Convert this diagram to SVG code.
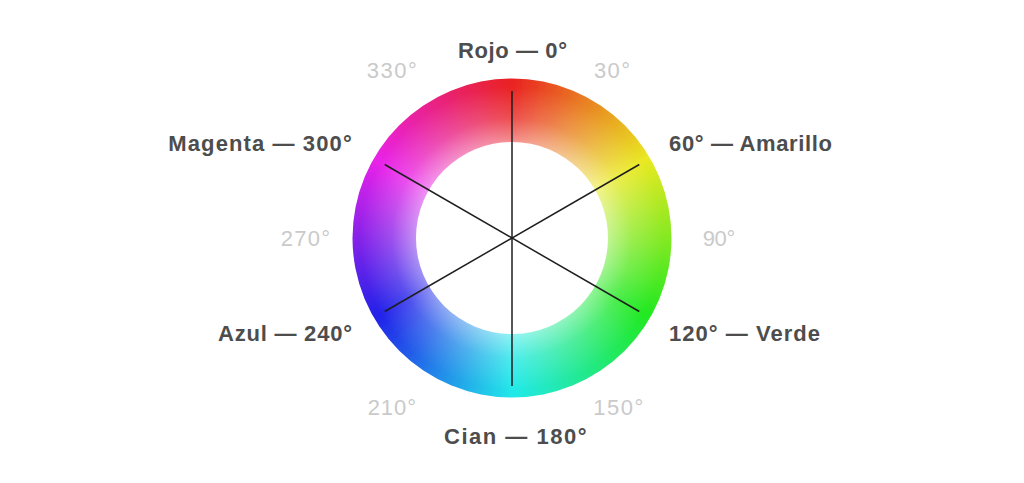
<svg xmlns="http://www.w3.org/2000/svg" xmlns:xlink="http://www.w3.org/1999/xlink" width="1024" height="483" viewBox="0 0 1024 483">
<style>
.lbl{font-family:"Liberation Sans",Arial,sans-serif;font-weight:700;font-size:22px;fill:#4d4d4d}
.deg{font-family:"Liberation Sans",Arial,sans-serif;font-weight:400;font-size:22px;fill:#cacaca}
.spoke{stroke:#1e1e1e;stroke-width:1.5;fill:none}
</style>
<defs>
<path id="w" d="M512,238 L506.6,68 L517.4,68 Z"/>
<clipPath id="disc"><circle cx="512" cy="238" r="159.5"/></clipPath>
<filter id="soft" x="-10%" y="-10%" width="120%" height="120%"><feGaussianBlur stdDeviation="2"/></filter>
<radialGradient id="fade" gradientUnits="userSpaceOnUse" cx="512" cy="238" r="160">
<stop offset="0.6" stop-color="#fff" stop-opacity="0.5"/>
<stop offset="0.75" stop-color="#fff" stop-opacity="0.2"/>
<stop offset="0.95" stop-color="#fff" stop-opacity="0"/>
</radialGradient>
</defs>
<rect width="1024" height="483" fill="#fff"/>
<g id="wheel">
<g clip-path="url(#disc)">
<g filter="url(#soft)">
<use xlink:href="#w" fill="hsl(0,82%,52%)" transform="rotate(0,512,238)"/>
<use xlink:href="#w" fill="hsl(3,82%,52%)" transform="rotate(3,512,238)"/>
<use xlink:href="#w" fill="hsl(6,82%,52%)" transform="rotate(6,512,238)"/>
<use xlink:href="#w" fill="hsl(9,82%,52%)" transform="rotate(9,512,238)"/>
<use xlink:href="#w" fill="hsl(12,82%,52%)" transform="rotate(12,512,238)"/>
<use xlink:href="#w" fill="hsl(15,82%,52%)" transform="rotate(15,512,238)"/>
<use xlink:href="#w" fill="hsl(18,82%,52%)" transform="rotate(18,512,238)"/>
<use xlink:href="#w" fill="hsl(21,82%,52%)" transform="rotate(21,512,238)"/>
<use xlink:href="#w" fill="hsl(24,82%,52%)" transform="rotate(24,512,238)"/>
<use xlink:href="#w" fill="hsl(27,82%,52%)" transform="rotate(27,512,238)"/>
<use xlink:href="#w" fill="hsl(30,82%,52%)" transform="rotate(30,512,238)"/>
<use xlink:href="#w" fill="hsl(33,82%,52%)" transform="rotate(33,512,238)"/>
<use xlink:href="#w" fill="hsl(36,82%,52%)" transform="rotate(36,512,238)"/>
<use xlink:href="#w" fill="hsl(39,82%,52%)" transform="rotate(39,512,238)"/>
<use xlink:href="#w" fill="hsl(42,82%,52%)" transform="rotate(42,512,238)"/>
<use xlink:href="#w" fill="hsl(45,82%,52%)" transform="rotate(45,512,238)"/>
<use xlink:href="#w" fill="hsl(48,82%,52%)" transform="rotate(48,512,238)"/>
<use xlink:href="#w" fill="hsl(51,82%,52%)" transform="rotate(51,512,238)"/>
<use xlink:href="#w" fill="hsl(54,82%,52%)" transform="rotate(54,512,238)"/>
<use xlink:href="#w" fill="hsl(57,82%,52%)" transform="rotate(57,512,238)"/>
<use xlink:href="#w" fill="hsl(60,82%,52%)" transform="rotate(60,512,238)"/>
<use xlink:href="#w" fill="hsl(63,82%,52%)" transform="rotate(63,512,238)"/>
<use xlink:href="#w" fill="hsl(66,82%,52%)" transform="rotate(66,512,238)"/>
<use xlink:href="#w" fill="hsl(69,82%,52%)" transform="rotate(69,512,238)"/>
<use xlink:href="#w" fill="hsl(72,82%,52%)" transform="rotate(72,512,238)"/>
<use xlink:href="#w" fill="hsl(75,82%,52%)" transform="rotate(75,512,238)"/>
<use xlink:href="#w" fill="hsl(78,82%,52%)" transform="rotate(78,512,238)"/>
<use xlink:href="#w" fill="hsl(81,82%,52%)" transform="rotate(81,512,238)"/>
<use xlink:href="#w" fill="hsl(84,82%,52%)" transform="rotate(84,512,238)"/>
<use xlink:href="#w" fill="hsl(87,82%,52%)" transform="rotate(87,512,238)"/>
<use xlink:href="#w" fill="hsl(90,82%,52%)" transform="rotate(90,512,238)"/>
<use xlink:href="#w" fill="hsl(93,82%,52%)" transform="rotate(93,512,238)"/>
<use xlink:href="#w" fill="hsl(96,82%,52%)" transform="rotate(96,512,238)"/>
<use xlink:href="#w" fill="hsl(99,82%,52%)" transform="rotate(99,512,238)"/>
<use xlink:href="#w" fill="hsl(102,82%,52%)" transform="rotate(102,512,238)"/>
<use xlink:href="#w" fill="hsl(105,82%,52%)" transform="rotate(105,512,238)"/>
<use xlink:href="#w" fill="hsl(108,82%,52%)" transform="rotate(108,512,238)"/>
<use xlink:href="#w" fill="hsl(111,82%,52%)" transform="rotate(111,512,238)"/>
<use xlink:href="#w" fill="hsl(114,82%,52%)" transform="rotate(114,512,238)"/>
<use xlink:href="#w" fill="hsl(117,82%,52%)" transform="rotate(117,512,238)"/>
<use xlink:href="#w" fill="hsl(120,82%,52%)" transform="rotate(120,512,238)"/>
<use xlink:href="#w" fill="hsl(123,82%,52%)" transform="rotate(123,512,238)"/>
<use xlink:href="#w" fill="hsl(126,82%,52%)" transform="rotate(126,512,238)"/>
<use xlink:href="#w" fill="hsl(129,82%,52%)" transform="rotate(129,512,238)"/>
<use xlink:href="#w" fill="hsl(132,82%,52%)" transform="rotate(132,512,238)"/>
<use xlink:href="#w" fill="hsl(135,82%,52%)" transform="rotate(135,512,238)"/>
<use xlink:href="#w" fill="hsl(138,82%,52%)" transform="rotate(138,512,238)"/>
<use xlink:href="#w" fill="hsl(141,82%,52%)" transform="rotate(141,512,238)"/>
<use xlink:href="#w" fill="hsl(144,82%,52%)" transform="rotate(144,512,238)"/>
<use xlink:href="#w" fill="hsl(147,82%,52%)" transform="rotate(147,512,238)"/>
<use xlink:href="#w" fill="hsl(150,82%,52%)" transform="rotate(150,512,238)"/>
<use xlink:href="#w" fill="hsl(153,82%,52%)" transform="rotate(153,512,238)"/>
<use xlink:href="#w" fill="hsl(156,82%,52%)" transform="rotate(156,512,238)"/>
<use xlink:href="#w" fill="hsl(159,82%,52%)" transform="rotate(159,512,238)"/>
<use xlink:href="#w" fill="hsl(162,82%,52%)" transform="rotate(162,512,238)"/>
<use xlink:href="#w" fill="hsl(165,82%,52%)" transform="rotate(165,512,238)"/>
<use xlink:href="#w" fill="hsl(168,82%,52%)" transform="rotate(168,512,238)"/>
<use xlink:href="#w" fill="hsl(171,82%,52%)" transform="rotate(171,512,238)"/>
<use xlink:href="#w" fill="hsl(174,82%,52%)" transform="rotate(174,512,238)"/>
<use xlink:href="#w" fill="hsl(177,82%,52%)" transform="rotate(177,512,238)"/>
<use xlink:href="#w" fill="hsl(180,82%,52%)" transform="rotate(180,512,238)"/>
<use xlink:href="#w" fill="hsl(183,82%,52%)" transform="rotate(183,512,238)"/>
<use xlink:href="#w" fill="hsl(186,82%,52%)" transform="rotate(186,512,238)"/>
<use xlink:href="#w" fill="hsl(189,82%,52%)" transform="rotate(189,512,238)"/>
<use xlink:href="#w" fill="hsl(192,82%,52%)" transform="rotate(192,512,238)"/>
<use xlink:href="#w" fill="hsl(195,82%,52%)" transform="rotate(195,512,238)"/>
<use xlink:href="#w" fill="hsl(198,82%,52%)" transform="rotate(198,512,238)"/>
<use xlink:href="#w" fill="hsl(201,82%,52%)" transform="rotate(201,512,238)"/>
<use xlink:href="#w" fill="hsl(204,82%,52%)" transform="rotate(204,512,238)"/>
<use xlink:href="#w" fill="hsl(207,82%,52%)" transform="rotate(207,512,238)"/>
<use xlink:href="#w" fill="hsl(210,82%,52%)" transform="rotate(210,512,238)"/>
<use xlink:href="#w" fill="hsl(213,82%,52%)" transform="rotate(213,512,238)"/>
<use xlink:href="#w" fill="hsl(216,82%,52%)" transform="rotate(216,512,238)"/>
<use xlink:href="#w" fill="hsl(219,82%,52%)" transform="rotate(219,512,238)"/>
<use xlink:href="#w" fill="hsl(222,82%,52%)" transform="rotate(222,512,238)"/>
<use xlink:href="#w" fill="hsl(225,82%,52%)" transform="rotate(225,512,238)"/>
<use xlink:href="#w" fill="hsl(228,82%,52%)" transform="rotate(228,512,238)"/>
<use xlink:href="#w" fill="hsl(231,82%,52%)" transform="rotate(231,512,238)"/>
<use xlink:href="#w" fill="hsl(234,82%,52%)" transform="rotate(234,512,238)"/>
<use xlink:href="#w" fill="hsl(237,82%,52%)" transform="rotate(237,512,238)"/>
<use xlink:href="#w" fill="hsl(240,82%,52%)" transform="rotate(240,512,238)"/>
<use xlink:href="#w" fill="hsl(243,82%,52%)" transform="rotate(243,512,238)"/>
<use xlink:href="#w" fill="hsl(246,82%,52%)" transform="rotate(246,512,238)"/>
<use xlink:href="#w" fill="hsl(249,82%,52%)" transform="rotate(249,512,238)"/>
<use xlink:href="#w" fill="hsl(252,82%,52%)" transform="rotate(252,512,238)"/>
<use xlink:href="#w" fill="hsl(255,82%,52%)" transform="rotate(255,512,238)"/>
<use xlink:href="#w" fill="hsl(258,82%,52%)" transform="rotate(258,512,238)"/>
<use xlink:href="#w" fill="hsl(261,82%,52%)" transform="rotate(261,512,238)"/>
<use xlink:href="#w" fill="hsl(264,82%,52%)" transform="rotate(264,512,238)"/>
<use xlink:href="#w" fill="hsl(267,82%,52%)" transform="rotate(267,512,238)"/>
<use xlink:href="#w" fill="hsl(270,82%,52%)" transform="rotate(270,512,238)"/>
<use xlink:href="#w" fill="hsl(273,82%,52%)" transform="rotate(273,512,238)"/>
<use xlink:href="#w" fill="hsl(276,82%,52%)" transform="rotate(276,512,238)"/>
<use xlink:href="#w" fill="hsl(279,82%,52%)" transform="rotate(279,512,238)"/>
<use xlink:href="#w" fill="hsl(282,82%,52%)" transform="rotate(282,512,238)"/>
<use xlink:href="#w" fill="hsl(285,82%,52%)" transform="rotate(285,512,238)"/>
<use xlink:href="#w" fill="hsl(288,82%,52%)" transform="rotate(288,512,238)"/>
<use xlink:href="#w" fill="hsl(291,82%,52%)" transform="rotate(291,512,238)"/>
<use xlink:href="#w" fill="hsl(294,82%,52%)" transform="rotate(294,512,238)"/>
<use xlink:href="#w" fill="hsl(297,82%,52%)" transform="rotate(297,512,238)"/>
<use xlink:href="#w" fill="hsl(300,82%,52%)" transform="rotate(300,512,238)"/>
<use xlink:href="#w" fill="hsl(303,82%,52%)" transform="rotate(303,512,238)"/>
<use xlink:href="#w" fill="hsl(306,82%,52%)" transform="rotate(306,512,238)"/>
<use xlink:href="#w" fill="hsl(309,82%,52%)" transform="rotate(309,512,238)"/>
<use xlink:href="#w" fill="hsl(312,82%,52%)" transform="rotate(312,512,238)"/>
<use xlink:href="#w" fill="hsl(315,82%,52%)" transform="rotate(315,512,238)"/>
<use xlink:href="#w" fill="hsl(318,82%,52%)" transform="rotate(318,512,238)"/>
<use xlink:href="#w" fill="hsl(321,82%,52%)" transform="rotate(321,512,238)"/>
<use xlink:href="#w" fill="hsl(324,82%,52%)" transform="rotate(324,512,238)"/>
<use xlink:href="#w" fill="hsl(327,82%,52%)" transform="rotate(327,512,238)"/>
<use xlink:href="#w" fill="hsl(330,82%,52%)" transform="rotate(330,512,238)"/>
<use xlink:href="#w" fill="hsl(333,82%,52%)" transform="rotate(333,512,238)"/>
<use xlink:href="#w" fill="hsl(336,82%,52%)" transform="rotate(336,512,238)"/>
<use xlink:href="#w" fill="hsl(339,82%,52%)" transform="rotate(339,512,238)"/>
<use xlink:href="#w" fill="hsl(342,82%,52%)" transform="rotate(342,512,238)"/>
<use xlink:href="#w" fill="hsl(345,82%,52%)" transform="rotate(345,512,238)"/>
<use xlink:href="#w" fill="hsl(348,82%,52%)" transform="rotate(348,512,238)"/>
<use xlink:href="#w" fill="hsl(351,82%,52%)" transform="rotate(351,512,238)"/>
<use xlink:href="#w" fill="hsl(354,82%,52%)" transform="rotate(354,512,238)"/>
<use xlink:href="#w" fill="hsl(357,82%,52%)" transform="rotate(357,512,238)"/>
</g>
</g>
<circle cx="512" cy="238" r="159.5" fill="url(#fade)"/>
<circle cx="512" cy="238" r="96" fill="#fff"/>
</g>
<g id="spokes">
<line class="spoke" x1="512" y1="91" x2="512" y2="386"/>
<line class="spoke" x1="384.7" y1="164.5" x2="639.3" y2="311.5"/>
<line class="spoke" x1="384.7" y1="311.5" x2="639.3" y2="164.5"/>
</g>
<g id="label-rojo"><text class="lbl" x="458" y="58" textLength="109" lengthAdjust="spacing">Rojo — 0°</text></g>
<g id="label-amarillo"><text class="lbl" x="669" y="150.5" textLength="163" lengthAdjust="spacing">60° — Amarillo</text></g>
<g id="label-verde"><text class="lbl" x="669" y="340.5" textLength="151" lengthAdjust="spacing">120° — Verde</text></g>
<g id="label-cian"><text class="lbl" x="444" y="444" textLength="142.5" lengthAdjust="spacing">Cian — 180°</text></g>
<g id="label-azul"><text class="lbl" x="218" y="340.5" textLength="134" lengthAdjust="spacing">Azul — 240°</text></g>
<g id="label-magenta"><text class="lbl" x="168.3" y="150.5" textLength="183.4" lengthAdjust="spacing">Magenta — 300°</text></g>
<g id="deg-30"><text class="deg" x="594" y="78.3" textLength="36" lengthAdjust="spacing">30°</text></g>
<g id="deg-90"><text class="deg" x="702.7" y="246" textLength="32.5" lengthAdjust="spacing">90°</text></g>
<g id="deg-150"><text class="deg" x="593.3" y="415" textLength="50" lengthAdjust="spacing">150°</text></g>
<g id="deg-210"><text class="deg" x="367.7" y="415" textLength="48.3" lengthAdjust="spacing">210°</text></g>
<g id="deg-270"><text class="deg" x="280.7" y="246" textLength="49.3" lengthAdjust="spacing">270°</text></g>
<g id="deg-330"><text class="deg" x="366.7" y="78.3" textLength="50" lengthAdjust="spacing">330°</text></g>
</svg>
